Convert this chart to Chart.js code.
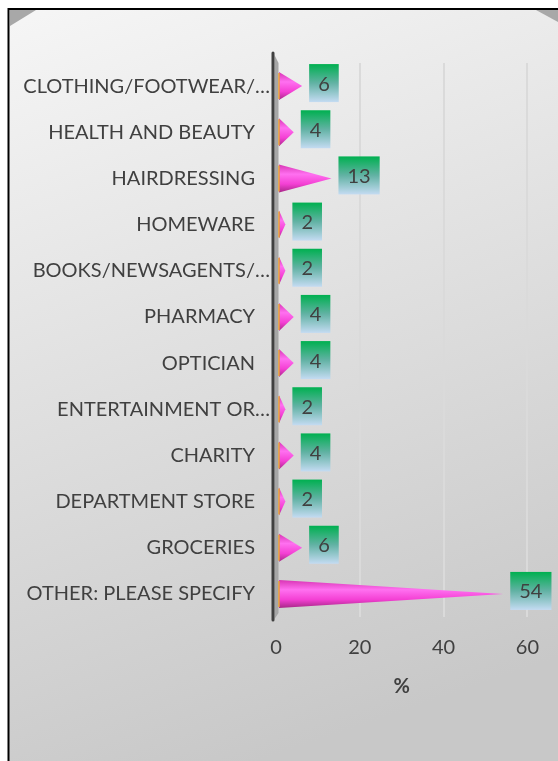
<!DOCTYPE html>
<html>
<head>
<meta charset="utf-8">
<script src="https://cdn.jsdelivr.net/npm/chart.js"></script>
<style>
html, body { margin: 0; padding: 0; background: #fff; }
#grafico { width: 558px; height: 761px; position: relative; }
</style>
</head>
<body>
<div id="grafico"><canvas id="c"></canvas></div>
<script>
const categorias = [
  'CLOTHING/FOOTWEAR/…',
  'HEALTH AND BEAUTY',
  'HAIRDRESSING',
  'HOMEWARE',
  'BOOKS/NEWSAGENTS/…',
  'PHARMACY',
  'OPTICIAN',
  'ENTERTAINMENT OR…',
  'CHARITY',
  'DEPARTMENT STORE',
  'GROCERIES',
  'OTHER: PLEASE SPECIFY'
]
const valores = [6, 4, 13, 2, 2, 4, 4, 2, 4, 2, 6, 54]
const ticksX = [0, 20, 40, 60]
const tituloX = '%'

const fonte = 'Lato'
const corTexto = '#404040'

// fundo com gradiente, borda e cantos
const fundo = {
  id: 'fundo',
  beforeDraw(chart) {
    const ctx = chart.ctx
    ctx.save()
    const g = ctx.createLinearGradient(0, 10, 260, 761)
    g.addColorStop(0, '#f6f6f6')
    g.addColorStop(1, '#c8c8c8')
    ctx.fillStyle = g
    ctx.fillRect(9, 10, 549, 751)
    // cantos
    ctx.fillStyle = '#a8a8a8'
    ctx.beginPath()
    ctx.moveTo(10, 10); ctx.lineTo(36, 10); ctx.lineTo(10, 26)
    ctx.closePath(); ctx.fill()
    ctx.beginPath()
    ctx.moveTo(536, 10); ctx.lineTo(558, 10); ctx.lineTo(558, 22)
    ctx.closePath(); ctx.fill()
    // borda
    ctx.strokeStyle = '#000'
    ctx.lineWidth = 2
    ctx.beginPath()
    ctx.moveTo(8.5, 761); ctx.lineTo(8.5, 9); ctx.lineTo(558, 9)
    ctx.stroke()
    ctx.restore()
  }
}

// eixo vertical com parede
const eixo = {
  id: 'eixo',
  beforeDatasetsDraw(chart) {
    const ctx = chart.ctx
    const x0 = chart.scales.x.getPixelForValue(0)
    const area = chart.chartArea
    ctx.save()
    ctx.fillStyle = '#a6a6a6'
    ctx.beginPath()
    ctx.moveTo(x0 - 1.5, area.top - 8)
    ctx.lineTo(x0 + 2.5, area.top)
    ctx.lineTo(x0 + 2.5, area.bottom - 4)
    ctx.lineTo(x0 - 1.5, area.bottom + 2)
    ctx.closePath(); ctx.fill()
    ctx.strokeStyle = '#404040'
    ctx.lineWidth = 3
    ctx.lineCap = 'round'
    ctx.beginPath()
    ctx.moveTo(x0 - 3, area.top - 10)
    ctx.lineTo(x0 - 3, area.bottom + 3)
    ctx.stroke()
    ctx.restore()
  }
}

// cones + rotulos
const cones = {
  id: 'cones',
  afterDatasetsDraw(chart) {
    const ctx = chart.ctx
    const meta = chart.getDatasetMeta(0)
    ctx.save()
    meta.data.forEach((bar, i) => {
      const h = bar.height
      const topo = bar.y - h / 2
      const base = bar.base + 2
      const ponta = bar.x + 1
      const g = ctx.createLinearGradient(0, topo, 0, topo + h)
      g.addColorStop(0, '#d834b4')
      g.addColorStop(0.35, '#ff70f0')
      g.addColorStop(0.7, '#f440d4')
      g.addColorStop(1, '#a82888')
      ctx.fillStyle = g
      ctx.beginPath()
      ctx.moveTo(base, topo)
      ctx.lineTo(ponta, bar.y)
      ctx.lineTo(base, topo + h)
      ctx.closePath()
      ctx.fill()
      ctx.strokeStyle = '#e8a030'
      ctx.lineWidth = 1.5
      ctx.beginPath()
      ctx.moveTo(base, topo + 1)
      ctx.lineTo(base, topo + h - 1)
      ctx.stroke()

      // rotulo
      const txt = String(valores[i])
      ctx.font = '20px ' + fonte
      const w = ctx.measureText(txt).width + 18
      const bh = 38
      const bx = ponta + 7
      const by = bar.y - 3 - bh / 2
      const gl = ctx.createLinearGradient(0, by, 0, by + bh)
      gl.addColorStop(0, '#00b050')
      gl.addColorStop(0.5, '#62b2a4')
      gl.addColorStop(1, '#c4dbf2')
      ctx.fillStyle = gl
      ctx.fillRect(bx, by, w, bh)
      ctx.fillStyle = corTexto
      ctx.textAlign = 'center'
      ctx.textBaseline = 'middle'
      ctx.fillText(txt, bx + w / 2, by + bh / 2 + 1)
    })
    ctx.restore()
  }
}

new Chart(document.getElementById('c'), {
  type: 'bar',
  data: {
    labels: categorias,
    datasets: [{
      data: valores,
      backgroundColor: 'rgba(0,0,0,0)',
      borderWidth: 0,
      barThickness: 28
    }]
  },
  options: {
    indexAxis: 'y',
    responsive: true,
    maintainAspectRatio: false,
    animation: false,
    layout: { padding: { left: 0, right: 30, top: 63, bottom: 62 } },
    plugins: { legend: { display: false }, tooltip: { enabled: false } },
    scales: {
      x: {
        min: 0,
        max: 60,
        afterBuildTicks: scale => { scale.ticks = ticksX.map(v => ({ value: v })) },
        grid: {
          color: ctx => ctx.tick && ctx.tick.value === 0 ? 'rgba(0,0,0,0)' : '#dadada',
          lineWidth: 2,
          drawTicks: false
        },
        border: { display: false },
        ticks: { font: { family: fonte, size: 20 }, color: corTexto, padding: 19 },
        title: {
          display: true,
          text: tituloX,
          font: { family: fonte, size: 20, weight: 'bold' },
          color: corTexto,
          padding: { top: -4, bottom: 0 }
        }
      },
      y: {
        afterFit: scale => { scale.width = 276 },
        grid: { display: false, drawTicks: false },
        border: { display: false },
        ticks: {
          autoSkip: false,
          font: { family: fonte, size: 20 },
          color: corTexto,
          padding: 6,
          callback: (v, i) => categorias[i].endsWith('…') ? categorias[i] : categorias[i] + '\u2003'
        }
      }
    }
  },
  plugins: [fundo, eixo, cones]
})
</script>
</body>
</html>
